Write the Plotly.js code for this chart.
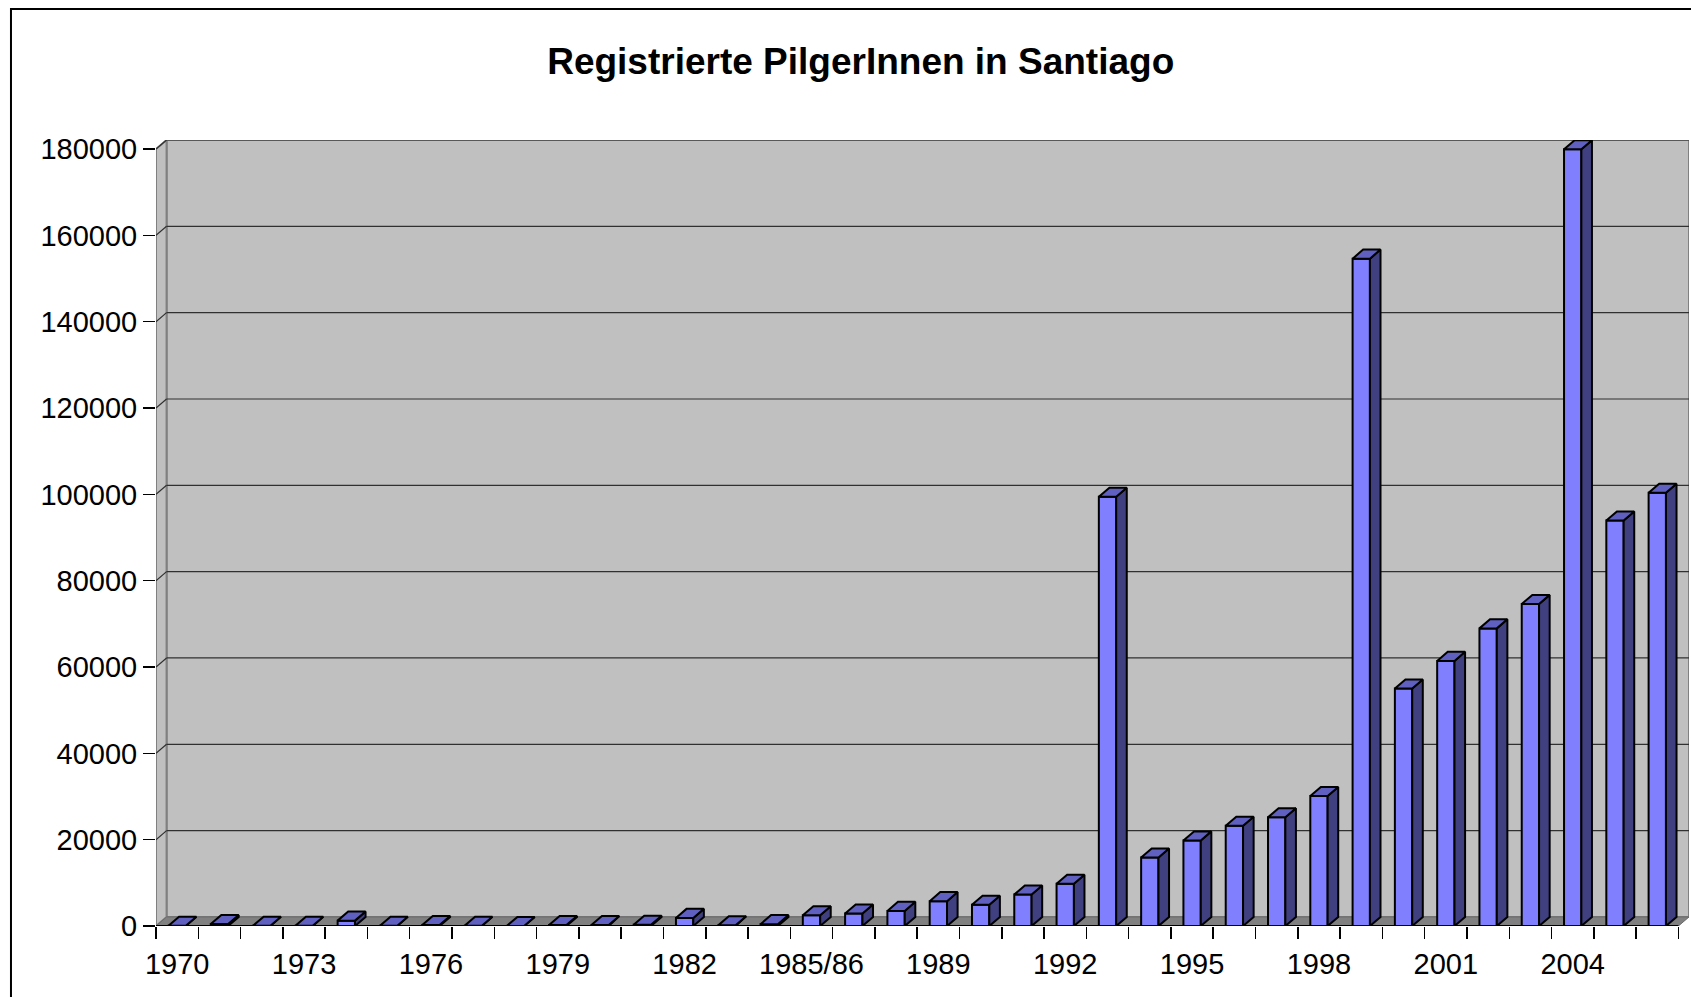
<!DOCTYPE html>
<html>
<head>
<meta charset="utf-8">
<script src="https://cdn.plot.ly/plotly-3.0.1.min.js"></script>
<style>
html,body{margin:0;padding:0;background:#ffffff;}
#chart{width:1691px;height:997px;}
</style>
</head>
<body>
<div id="chart"></div>
<script>
// ---- data ----
const categories = ['1970','1971','1972','1973','1974','1975','1976','1977','1978','1979',
  '1980','1981','1982','1983','1984','1985/86','1987','1988','1989','1990','1991','1992',
  '1993','1994','1995','1996','1997','1998','1999','2000','2001','2002','2003','2004','2005','2006'];
const pilgrims = [68, 451, 67, 38, 1245, 50, 243, 31, 13, 231,
  209, 299, 1868, 146, 423, 2491, 2905, 3501, 5760, 4918, 7274, 9764,
  99436, 15863, 19821, 23218, 25179, 30126, 154613, 55004, 61418, 68952, 74614, 179944, 93924, 100377];
const tickLabels = ['1970','1973','1976','1979','1982','1985/86','1989','1992','1995','1998','2001','2004'];
const yTicks = [0,20000,40000,60000,80000,100000,120000,140000,160000,180000];

// ---- 3D look parameters ----
const DX = 0.25, DY = 2100, HW = 0.205;
const N = categories.length;
const xMin = -0.5, xMax = N - 0.5;
const yTop = yTicks[yTicks.length-1];

const idx = categories.map((c,i)=>i);

// side and top faces
const sx=[], sy=[], tx=[], ty=[];
idx.forEach(i=>{
  const v = pilgrims[i];
  sx.push(i+HW, i+HW+DX, i+HW+DX, i+HW, i+HW, null);
  sy.push(0, DY, v+DY, v, 0, null);
  tx.push(i-HW, i+HW, i+HW+DX, i-HW+DX, i-HW, null);
  ty.push(v, v, v+DY, v+DY, v, null);
});

const frontTrace = {
  type:'bar', x: idx, y: pilgrims, width: 2*HW,
  marker:{color:'#8080FF', line:{color:'#000000', width:2}},
  hoverinfo:'skip', showlegend:false
};
const sideTrace = {
  type:'scatter', mode:'lines', x:sx, y:sy, fill:'toself', fillcolor:'#404080',
  line:{color:'#000000', width:2}, hoverinfo:'skip', showlegend:false
};
const topTrace = {
  type:'scatter', mode:'lines', x:tx, y:ty, fill:'toself', fillcolor:'#6060C0',
  line:{color:'#000000', width:2}, hoverinfo:'skip', showlegend:false
};

// walls
const shapes = [];
shapes.push({type:'rect', xref:'x', yref:'y', x0:xMin+DX, x1:xMax+DX, y0:DY, y1:yTop+DY,
  fillcolor:'#C0C0C0', line:{color:'#808080', width:2}, layer:'below'});
shapes.push({type:'path', xref:'x', yref:'y',
  path:`M ${xMin},0 L ${xMin+DX},${DY} L ${xMin+DX},${yTop+DY} L ${xMin},${yTop} Z`,
  fillcolor:'#C0C0C0', line:{color:'#808080', width:2}, layer:'below'});
shapes.push({type:'path', xref:'x', yref:'y',
  path:`M ${xMin},0 L ${xMax},0 L ${xMax+DX},${DY} L ${xMin+DX},${DY} Z`,
  fillcolor:'#808080', line:{color:'#6a6a6a', width:1}, layer:'below'});
yTicks.slice(1).forEach(v=>{
  shapes.push({type:'line', xref:'x', yref:'y', x0:xMin+DX, x1:xMax+DX, y0:v+DY, y1:v+DY,
    line:{color:'#303030', width:1.2}, layer:'below'});
  shapes.push({type:'line', xref:'x', yref:'y', x0:xMin, x1:xMin+DX, y0:v, y1:v+DY,
    line:{color:'#303030', width:1.2}, layer:'below'});
});
// front base line
shapes.push({type:'line', xref:'x', yref:'y', x0:xMin, x1:xMax, y0:0, y1:0,
  line:{color:'#000000', width:2}, layer:'above'});
// outer chart frame
shapes.push({type:'rect', xref:'paper', yref:'paper', x0:-0.0946, x1:1.2, y0:-0.3, y1:1.1667,
  line:{color:'#000000', width:2}, fillcolor:'rgba(0,0,0,0)', layer:'above'});

const font = 'Liberation Sans, Arial, sans-serif';
const layout = {
  width:1691, height:997,
  margin:{l:156, r:2, t:140, b:71, pad:0},
  paper_bgcolor:'#ffffff', plot_bgcolor:'#ffffff',
  title:{text:'Registrierte PilgerInnen in Santiago', font:{family:font, size:37, color:'#000000', weight:'bold'},
    x:0.509, xref:'container', xanchor:'center', y:0.939, yref:'container', yanchor:'middle'},
  xaxis:{range:[xMin, xMax+DX], tickmode:'array',
    tickvals: tickLabels.map(l=>categories.indexOf(l)), ticktext: tickLabels,
    ticks:'outside', ticklen:12, tickcolor:'rgba(0,0,0,0)',
    minor:{tick0:-0.5, dtick:1, ticks:'outside', ticklen:12, tickcolor:'#000000', tickwidth:1.5, showgrid:false},
    showgrid:false, zeroline:false, showline:false, fixedrange:true,
    tickfont:{family:font, size:29, color:'#000000'}},
  yaxis:{range:[0, yTop+DY], tickmode:'array', tickvals:yTicks, ticktext:yTicks.map(String),
    ticks:'outside', ticklen:12, tickcolor:'#000000', tickwidth:1.5,
    showgrid:false, zeroline:false, showline:false, fixedrange:true,
    tickfont:{family:font, size:29, color:'#000000'}},
  bargap:0, shapes:shapes, showlegend:false, hovermode:false
};

Plotly.newPlot('chart', [frontTrace, sideTrace, topTrace], layout, {displayModeBar:false, staticPlot:true});
</script>
</body>
</html>
